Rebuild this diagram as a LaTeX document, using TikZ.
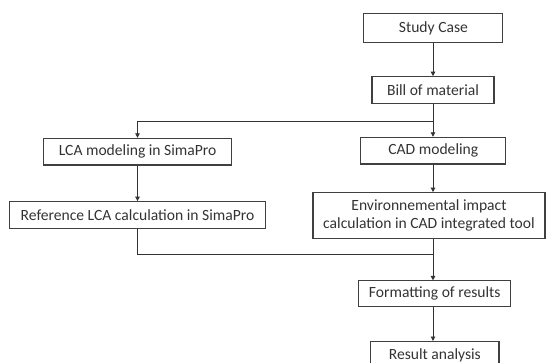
\documentclass[tikz,border=0pt]{standalone}
\usepackage{fontspec}
\setmainfont{Carlito}
\usetikzlibrary{arrows.meta}
\tikzset{box/.style={draw=black!75, line width=1.1pt, inner sep=0pt, align=center, text=black!80, font=\fontsize{15.6}{17.5}\selectfont},
  link/.style={draw=black!80, line width=0.9pt},
  >/.tip={Triangle[length=4.5pt,width=4.5pt]}}

\begin{document}
\begin{tikzpicture}[x=1pt,y=-1pt]
\useasboundingbox (0,0) rectangle (546,363);
\node[box, minimum width=139pt, minimum height=29.5pt] (study) at (433.4,28) {Study Case};
\node[box, minimum width=122pt, minimum height=26.6pt] (bom) at (433,90) {Bill of material};
\node[box, minimum width=188pt, minimum height=26.7pt] (lca) at (137.6,151.7) {LCA modeling in SimaPro};
\node[box, minimum width=145pt, minimum height=26.7pt] (cad) at (433.3,150.7) {CAD modeling};
\node[box, minimum width=256pt, minimum height=26.7pt] (ref) at (137.5,215) {Reference LCA calculation in SimaPro};
\node[box, minimum width=232pt, minimum height=45.7pt] (env) at (429,215.5) {Environnemental impact\\calculation in CAD integrated tool};
\node[box, minimum width=151.6pt, minimum height=25.7pt] (fmt) at (434.7,293.8) {Formatting of results};
\node[box, minimum width=128.3pt, minimum height=27pt, anchor=north] (res) at (434.8,341) {Result analysis};
\coordinate (split) at (433,121);
\coordinate (merge) at (433,254);
\draw[link,->] (study.south -| split) -- (bom.north -| split);
\draw[link] (bom.south -| split) -- (split);
\draw[link,->] (split) -| (lca.north -| ref.south);
\draw[link,->] (split) -- (cad.north -| split);
\draw[link,->] (lca.south -| ref.south) -- (ref.north -| ref.south);
\draw[link,->] (cad.south -| split) -- (env.north -| split);
\draw[link] (ref.south) |- (merge);
\draw[link] (env.south -| merge) -- (merge);
\draw[link,->] (merge) -- (fmt.north -| merge);
\draw[link,->] (fmt.south -| merge) -- (res.north -| merge);
\end{tikzpicture}
\end{document}
